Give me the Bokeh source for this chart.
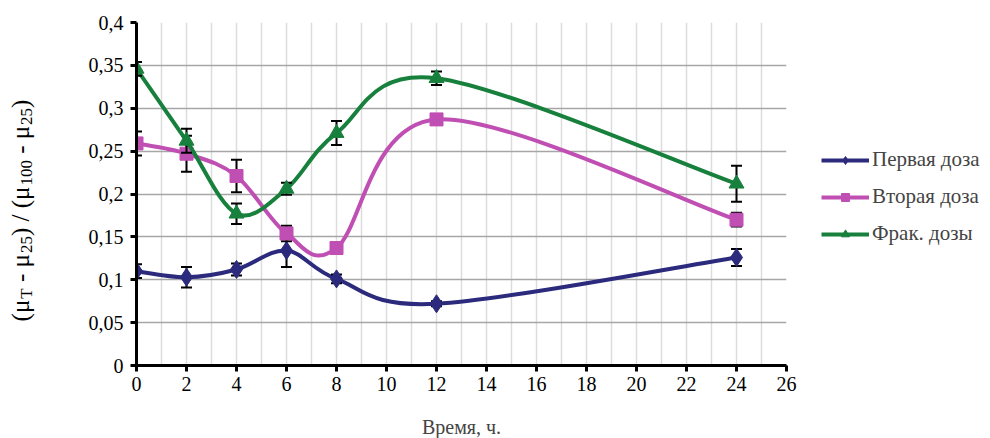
import numpy as np
from bokeh.plotting import figure
from bokeh.layouts import row
from bokeh.models import ColumnDataSource, Legend, LegendItem, FixedTicker
from bokeh.core.properties import value
from bokeh.embed import file_html
from bokeh.resources import INLINE

# ---------------- data ----------------
hours = [0, 2, 4, 6, 8, 12, 24]

first_dose = [0.110, 0.103, 0.112, 0.134, 0.101, 0.072, 0.126]
first_err = [0.008, 0.012, 0.007, 0.019, 0.005, 0.003, 0.010]

second_dose = [0.259, 0.247, 0.221, 0.154, 0.137, 0.287, 0.170]
second_err = [0.014, 0.021, 0.019, 0.009, 0.006, 0.004, 0.008]

frac_dose = [0.346, 0.262, 0.177, 0.206, 0.271, 0.335, 0.212]
frac_err = [0.008, 0.014, 0.012, 0.007, 0.014, 0.008, 0.021]

series_names = ["Первая доза", "Вторая доза", "Фрак. дозы"]

x_ticks = [0, 2, 4, 6, 8, 10, 12, 14, 16, 18, 20, 22, 24, 26]
y_ticks = [0, 0.05, 0.1, 0.15, 0.2, 0.25, 0.3, 0.35, 0.4]
y_tick_labels = ["0", "0,05", "0,1", "0,15", "0,2", "0,25", "0,3", "0,35", "0,4"]
x_grid_ticks = list(range(0, 27))

x_title = "Время, ч."
# y title pieces: (text, is_subscript); " " only advances
y_title_parts = [("(μ", False), ("T", True), (" ", False), ("-", False), (" ", False),
                 ("μ", False), ("25", True), (")", False), (" ", False), ("/", False),
                 (" ", False), ("(μ", False), ("100", True), (" ", False), ("-", False),
                 (" ", False), ("μ", False), ("25", True), (")", False)]

# ---------------- style ----------------
FONT = "Liberation Serif"
colors = ["#2b2a7d", "#c04fb4", "#17803c"]
markers = ["diamond", "square", "triangle"]
marker_sizes = [18, 13, 15]

H = 437
LW = 70

p = figure(frame_width=650, frame_height=343, x_range=(0, 26), y_range=(0, 0.4),
           output_backend="svg", toolbar_location=None,
           min_border_left=66, min_border_top=22, min_border_bottom=72,
           min_border_right=196)
p.outline_line_color = None
p.background_fill_color = "white"

p.xaxis.ticker = FixedTicker(ticks=x_ticks)
p.yaxis.ticker = FixedTicker(ticks=y_ticks)
p.yaxis.major_label_overrides = {t: l for t, l in zip(y_ticks, y_tick_labels)}
for ax in (p.xaxis[0], p.yaxis[0]):
    ax.axis_line_width = 3
    ax.axis_line_color = "black"
    ax.major_tick_line_width = 3
    ax.major_tick_line_color = "black"
    ax.major_tick_out = 6
    ax.major_tick_in = 0
    ax.minor_tick_line_color = None
    ax.major_label_text_font = FONT
    ax.major_label_text_font_size = "20px"
    ax.major_label_text_color = "black"
p.xaxis.major_label_standoff = 5
p.yaxis.major_label_standoff = 7
p.xaxis.axis_label = x_title
p.xaxis.axis_label_text_font = FONT
p.xaxis.axis_label_text_font_size = "20px"
p.xaxis.axis_label_text_font_style = "normal"
p.xaxis.axis_label_standoff = 22

p.xgrid.ticker = FixedTicker(ticks=x_grid_ticks)
p.xgrid.grid_line_color = "#dcdcdc"
p.xgrid.grid_line_width = 1.5
p.ygrid.ticker = FixedTicker(ticks=y_ticks)
p.ygrid.grid_line_color = "#a6a6a6"
p.ygrid.grid_line_width = 1.5


def smooth_segments(xs, ys):
    n = len(xs)
    d = dict(x0=[], y0=[], x1=[], y1=[], cx0=[], cy0=[], cx1=[], cy1=[])
    for i in range(n - 1):
        a = i - 1 if i > 0 else i
        b = i + 2 if i + 2 < n else i + 1
        d["x0"].append(xs[i]); d["y0"].append(ys[i])
        d["x1"].append(xs[i + 1]); d["y1"].append(ys[i + 1])
        d["cx0"].append(xs[i] + (xs[i + 1] - xs[a]) / 6)
        d["cy0"].append(ys[i] + (ys[i + 1] - ys[a]) / 6)
        d["cx1"].append(xs[i + 1] - (xs[b] - xs[i]) / 6)
        d["cy1"].append(ys[i + 1] - (ys[b] - ys[i]) / 6)
    return d


items = []
for vals, errs, name, col, mk, ms in zip([first_dose, second_dose, frac_dose],
                                         [first_err, second_err, frac_err],
                                         series_names, colors, markers, marker_sizes):
    seg = ColumnDataSource(smooth_segments(hours, vals))
    bz = p.bezier(x0="x0", y0="y0", x1="x1", y1="y1", cx0="cx0", cy0="cy0",
                  cx1="cx1", cy1="cy1", source=seg, line_color=col, line_width=4)
    lo = [v - e for v, e in zip(vals, errs)]
    hi = [v + e for v, e in zip(vals, errs)]
    src = ColumnDataSource(dict(x=hours, y=vals, lo=lo, hi=hi))
    p.segment(x0="x", y0="lo", x1="x", y1="hi", source=src, line_color="black", line_width=2)
    p.scatter(x="x", y="lo", source=src, marker="dash", size=11, line_color="black", line_width=2)
    p.scatter(x="x", y="hi", source=src, marker="dash", size=11, line_color="black", line_width=2)
    sc = p.scatter(x="x", y="y", source=src, marker=mk, size=ms, fill_color=col, line_color=col)
    items.append(LegendItem(label=name, renderers=[bz, sc]))

legend = Legend(items=items, location=(35, 119), glyph_width=48, glyph_height=20,
                label_text_font=FONT, label_text_font_size="21px", label_standoff=3,
                label_height=20, spacing=12, padding=6, margin=0, border_line_color=None,
                background_fill_alpha=0)
p.add_layout(legend, "right")

# ---------------- y title figure ----------------
lab = figure(frame_width=LW, frame_height=H, x_range=(0, LW), y_range=(0, H),
             output_backend="svg", toolbar_location=None, min_border=0)
lab.axis.visible = False
lab.grid.visible = False
lab.outline_line_color = None

cw = {" ": 0.25, "(": 0.333, ")": 0.333, "-": 0.333, "/": 0.278, "μ": 0.576,
      "T": 0.611, "0": 0.5, "1": 0.5, "2": 0.5, "5": 0.5}
main_fs, sub_fs = 25, 17
widths = [sum(cw[c] for c in t) * (sub_fs if s else main_fs) for t, s in y_title_parts]
pos = (H - 188) - sum(widths) / 2
base_x = 20
for (t, s), w in zip(y_title_parts, widths):
    if t.strip():
        lab.text(x=[base_x + (6 if s else 0)], y=[pos], text=[t], angle=np.pi / 2,
                 text_align="left", text_baseline="alphabetic",
                 text_font=value(FONT), text_font_size=value(f"{sub_fs if s else main_fs}px"),
                 text_color="black")
    pos += w

layout = row(lab, p)
open("out.html", "w").write(file_html(layout, INLINE))
